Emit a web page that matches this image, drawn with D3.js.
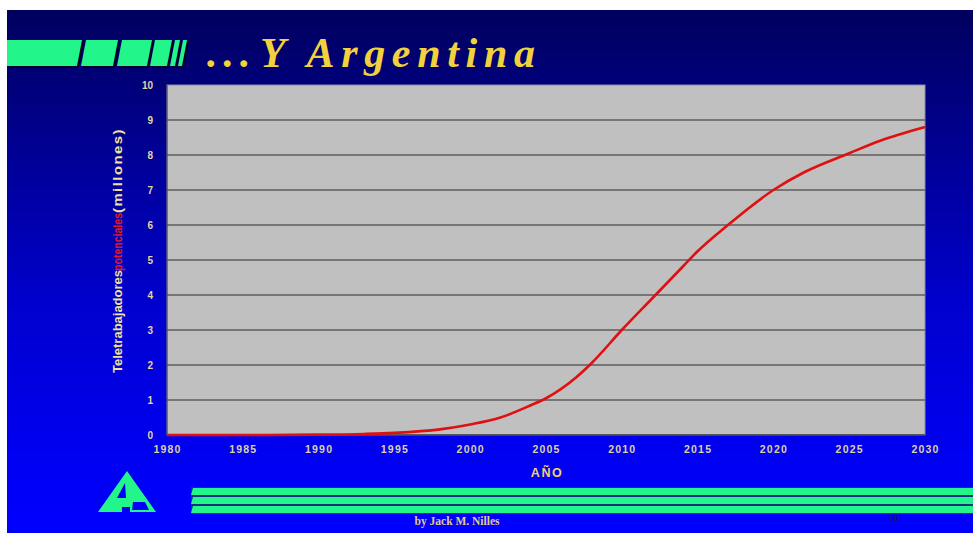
<!DOCTYPE html>
<html>
<head>
<meta charset="utf-8">
<script src="https://cdn.jsdelivr.net/npm/d3@7"></script>
<style>
  html, body { margin: 0; padding: 0; background: #ffffff; overflow: hidden; }
  svg { display: block; }
</style>
</head>
<body>
<script>
// ---- data ----
const years  = [1980, 1985, 1990, 1993, 1995, 1998, 2000, 2002, 2004, 2005, 2007, 2008, 2010, 2012, 2014, 2015, 2017, 2020, 2022, 2025, 2027, 2030];
const values = [0, 0, 0.01, 0.03, 0.06, 0.16, 0.3, 0.5, 0.85, 1.05, 1.65, 2.05, 3.0, 3.9, 4.8, 5.25, 6.0, 7.0, 7.5, 8.05, 8.4, 8.8];
const xTicks = [1980, 1985, 1990, 1995, 2000, 2005, 2010, 2015, 2020, 2025, 2030];
const yTicks = [0, 1, 2, 3, 4, 5, 6, 7, 8, 9, 10];
const titleDots = "...";
const titleWords = "Y Argentina";
const yTitleParts = ["Teletrabajadores", "potenciales", "(millones)"];
const xTitle = "AÑO";
const footerText = "by Jack M. Nilles";
const pageNum = "10";

const W = 973, H = 533;
const svg = d3.select("body").append("svg").attr("width", W).attr("height", H);
const defs = svg.append("defs");
const grad = defs.append("linearGradient").attr("id", "bg").attr("x1", 0).attr("y1", 0).attr("x2", 0).attr("y2", 1);
[["0%", "#00005e"], ["25%", "#000090"], ["55%", "#0000cc"], ["85%", "#0000f2"], ["100%", "#0000ff"]]
  .forEach(([o, c]) => grad.append("stop").attr("offset", o).attr("stop-color", c));

// slide background
svg.append("rect").attr("x", 7).attr("y", 10).attr("width", W - 7).attr("height", H - 10).attr("fill", "url(#bg)");

const green = "#22f58a";
const shadow = "#000028";

// header stripes
const hdr = svg.append("g");
const hy0 = 40, hy1 = 66, sl = 5;
const blocks = [[7, 77, true], [81, 113], [117, 147], [150, 167], [170, 175], [178, 182]];
blocks.forEach(([a, b, flat]) => {
  const d = flat
    ? `M${a},${hy1} L${a},${hy0} L${b + sl},${hy0} L${b},${hy1} Z`
    : `M${a},${hy1} L${a + sl},${hy0} L${b + sl},${hy0} L${b},${hy1} Z`;
  hdr.append("path").attr("d", d).attr("transform", "translate(2,2)").attr("fill", shadow);
  hdr.append("path").attr("d", d).attr("fill", green);
});

// title
const titleFont = { family: "'Liberation Serif', 'DejaVu Serif', serif", size: 42, color: "#f2d23c" };
svg.append("text")
  .attr("x", 207).attr("y", 67)
  .attr("font-family", titleFont.family).attr("font-style", "italic").attr("font-weight", "bold")
  .attr("font-size", titleFont.size).attr("fill", titleFont.color)
  .attr("letter-spacing", 6)
  .text(titleDots);
svg.append("text")
  .attr("x", 260).attr("y", 67)
  .attr("font-family", titleFont.family).attr("font-style", "italic").attr("font-weight", "bold")
  .attr("font-size", titleFont.size).attr("fill", titleFont.color)
  .attr("textLength", 275).attr("lengthAdjust", "spacing")
  .text(titleWords);

// plot
const x = d3.scaleLinear().domain([1980, 2030]).range([167, 925]);
const y = d3.scaleLinear().domain([0, 10]).range([435, 85]);

svg.append("rect")
  .attr("x", x(1980)).attr("y", y(10))
  .attr("width", x(2030) - x(1980)).attr("height", y(0) - y(10))
  .attr("fill", "#c0c0c0").attr("stroke", "#8a8aa8").attr("stroke-width", 1);

// gridlines
svg.append("g").selectAll("line").data(yTicks.filter(d => d > 0 && d < 10)).join("line")
  .attr("x1", x(1980)).attr("x2", x(2030))
  .attr("y1", d => y(d)).attr("y2", d => y(d))
  .attr("stroke", "#5e5e5e").attr("stroke-width", 1.5);

// axis lines
svg.append("line").attr("x1", x(1980)).attr("x2", x(2030)).attr("y1", y(0)).attr("y2", y(0))
  .attr("stroke", "#404040").attr("stroke-width", 1.5);
svg.append("line").attr("x1", x(1980)).attr("x2", x(1980)).attr("y1", y(0)).attr("y2", y(10))
  .attr("stroke", "#404060").attr("stroke-width", 1);

// y tick labels via axis
const yAxis = svg.append("g").attr("transform", `translate(${x(1980)},0)`)
  .call(d3.axisLeft(y).tickValues(yTicks).tickSize(0).tickPadding(14).tickFormat(d3.format("d")));
yAxis.select(".domain").remove();
yAxis.selectAll("text")
  .attr("font-family", "'Liberation Sans', Arial, sans-serif").attr("font-weight", "bold")
  .attr("font-size", 10).attr("fill", "#e2d6a4");

// x tick labels via axis
const xAxis = svg.append("g").attr("transform", `translate(0,${y(0)})`)
  .call(d3.axisBottom(x).tickValues(xTicks).tickSize(0).tickPadding(11).tickFormat(d3.format("d")));
xAxis.select(".domain").remove();
xAxis.selectAll("text")
  .attr("font-family", "'Liberation Sans', Arial, sans-serif").attr("font-weight", "bold")
  .attr("font-size", 10.5).attr("letter-spacing", 1.2).attr("fill", "#ddd2a2");

// x title
svg.append("text").attr("x", 547).attr("y", 477).attr("text-anchor", "middle")
  .attr("font-family", "'Liberation Sans', Arial, sans-serif").attr("font-weight", "bold")
  .attr("font-size", 12.5).attr("letter-spacing", 1.5).attr("fill", "#f0d070").text(xTitle);

// y title (rotated pieces)
const yt = [
  { t: yTitleParts[0], y0: 373, len: 103, c: "#f0e0a0" },
  { t: yTitleParts[1], y0: 271, len: 58, c: "#e01828" },
  { t: yTitleParts[2], y0: 213, len: 85, c: "#f0e0a0" }
];
yt.forEach(p => {
  svg.append("text")
    .attr("transform", `translate(122,${p.y0}) rotate(-90)`)
    .attr("font-family", "'Liberation Sans', Arial, sans-serif").attr("font-weight", "bold")
    .attr("font-size", 12).attr("fill", p.c)
    .attr("letter-spacing", p.t === yTitleParts[2] ? 1.2 : 0)
    .attr("textLength", p.len).attr("lengthAdjust", "spacingAndGlyphs")
    .text(p.t);
});

// line
const pts = years.map((yr, i) => [yr, values[i]]);
const line = d3.line().x(d => x(d[0])).y(d => y(d[1])).curve(d3.curveMonotoneX);
svg.append("path").datum(pts).attr("d", line)
  .attr("fill", "none").attr("stroke", "#e01010").attr("stroke-width", 2.6);

// footer stripes
const fs = svg.append("g");
const stripes = [[488, 495], [497, 504], [506, 513]];
stripes.forEach(([a, b]) => {
  fs.append("rect").attr("x", 191).attr("y", a - 1).attr("width", W - 191).attr("height", (b - a) + 2).attr("fill", "#14307e");
});
stripes.forEach(([a, b]) => {
  fs.append("path").attr("d", `M${191},${b} L${193},${a} L${W},${a} L${W},${b} Z`).attr("fill", green);
});

// logo
svg.append("path")
  .attr("d", "M127,471 L156,512 L98,512 Z M125,483 L117,498 L126,498 Z M133,502 L145,502 L149,510 L132,510 Z")
  .attr("fill-rule", "evenodd").attr("fill", green);
svg.append("path")
  .attr("d", "M122,507 L130,507 L130,512 L122,512 Z")
  .attr("fill", "#0000f0");

// footer text
svg.append("text").attr("x", 457).attr("y", 525).attr("text-anchor", "middle")
  .attr("font-family", "'Liberation Serif', 'Times New Roman', serif").attr("font-weight", "bold")
  .attr("font-size", 11.5).attr("fill", "#e0cc88").text(footerText);
svg.append("text").attr("x", 893).attr("y", 522).attr("text-anchor", "middle")
  .attr("font-family", "'Liberation Serif', serif").attr("font-weight", "bold")
  .attr("font-size", 12).attr("fill", "#10108a").text(pageNum);
</script>
</body>
</html>
